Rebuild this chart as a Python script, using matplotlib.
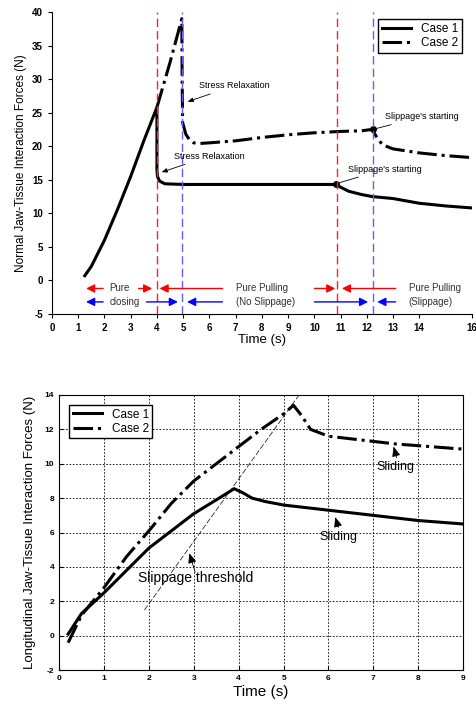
import matplotlib
matplotlib.use("Agg")
import matplotlib.pyplot as plt

plt.rcParams["font.family"] = ["Liberation Sans", "DejaVu Sans"]
plt.rcParams["axes.unicode_minus"] = False

# --- oberes Diagramm: Normalkraft ---
t_case1 = [1.25, 1.5, 2.0, 2.5, 3.0, 3.5, 4.0, 4.0, 4.02, 4.1, 4.3, 5.0, 6.0, 8.0,
           10.0, 10.8, 11.0, 11.3, 11.8, 12.2, 13.0, 14.0, 15.0, 16.0]
f_case1 = [0.7, 2.1, 6.0, 10.6, 15.5, 20.8, 25.8, 16.5, 15.5, 14.8, 14.4, 14.3, 14.3, 14.3,
           14.3, 14.3, 13.9, 13.3, 12.8, 12.5, 12.2, 11.5, 11.1, 10.8]
t_case2 = [4.0, 4.5, 4.95, 4.96, 4.98, 5.1, 5.25, 5.4, 5.6, 6.0, 7.0, 8.0, 9.0, 10.0,
           11.0, 11.8, 12.2, 12.4, 12.6, 13.0, 14.0, 15.0, 16.0]
f_case2 = [25.8, 32.5, 39.0, 30.0, 23.5, 21.8, 20.9, 20.5, 20.4, 20.5, 20.8, 21.3, 21.7, 22.0,
           22.2, 22.3, 22.5, 21.2, 20.2, 19.6, 19.0, 18.6, 18.3]
slip_t = [10.82, 12.22]
slip_f = [14.3, 22.5]
red_lines = [4.0, 10.88]
blue_lines = [4.97, 12.25]
top_xticks = [0, 1, 2, 3, 4, 5, 6, 7, 8, 9, 10, 11, 12, 13, 14, 16]

# --- unteres Diagramm: Längskraft ---
bt_case1 = [0.2, 0.5, 1.0, 1.5, 2.0, 2.5, 3.0, 3.5, 3.9, 4.1, 4.3, 4.6, 5.0, 5.5, 6.0,
            6.5, 7.0, 7.5, 8.0, 8.5, 9.0]
bf_case1 = [0.1, 1.3, 2.5, 3.8, 5.1, 6.1, 7.1, 7.9, 8.55, 8.3, 8.0, 7.8, 7.6, 7.45, 7.3,
            7.15, 7.0, 6.85, 6.7, 6.6, 6.5]
bt_case2 = [0.2, 0.5, 1.0, 1.5, 2.0, 2.5, 3.0, 3.5, 4.0, 4.5, 5.0, 5.22, 5.4, 5.6, 6.0,
            6.5, 7.0, 7.5, 8.0, 8.5, 9.0]
bf_case2 = [-0.4, 1.2, 2.8, 4.6, 6.1, 7.7, 9.0, 10.0, 11.0, 12.0, 12.9, 13.4, 12.8, 12.0, 11.6,
            11.45, 11.3, 11.15, 11.05, 10.95, 10.85]
thresh_t = [1.9, 5.4]
thresh_f = [1.5, 14.2]

fig = plt.figure(figsize=(4.77, 7.04), dpi=100)

# ================= oben =================
ax = fig.add_axes([0.109, 0.554, 0.880, 0.429])
ax.plot(t_case1, f_case1, "k-", lw=2.2, label="Case 1")
ax.plot(t_case2, f_case2, "k-.", lw=2.2, label="Case 2")
ax.plot(slip_t, slip_f, "ko", ms=4)
for x in red_lines:
    ax.axvline(x, color="#ff2020", ls=(0, (6, 3)), lw=1.0)
for x in blue_lines:
    ax.axvline(x, color="#6060ff", ls=(0, (6, 3)), lw=1.0)

ax.set_xlim(0, 16)
ax.set_ylim(-5, 40)
ax.set_xticks(top_xticks)
ax.set_yticks(range(-5, 41, 5))
ax.spines["top"].set_visible(False)
ax.spines["right"].set_visible(False)
ax.tick_params(labelsize=7, length=3)
for lbl in ax.get_xticklabels() + ax.get_yticklabels():
    lbl.set_fontweight("bold")
ax.set_xlabel("Time (s)", fontsize=9.5, labelpad=1)
ax.set_ylabel("Normal Jaw-Tissue Interaction Forces (N)", fontsize=8.5, labelpad=4)
ax.legend(loc="upper right", fontsize=8.5, handlelength=2.5, fancybox=False,
          edgecolor="black", framealpha=1, borderpad=0.3, labelspacing=0.2,
          bbox_to_anchor=(0.99, 0.995))


def arrow(a, head, tail, color, lw=1.0, hl=0.5, hw=0.25):
    a.annotate("", xy=head, xytext=tail,
               arrowprops=dict(arrowstyle=f"-|>,head_length={hl},head_width={hw}",
                               color=color, lw=lw, shrinkA=0, shrinkB=0))


# Phasen-Pfeile
r1, r2 = -1.2, -3.2
arrow(ax, (1.3, r1), (1.95, r1), "red")
arrow(ax, (3.82, r1), (3.3, r1), "red")
arrow(ax, (4.1, r1), (6.5, r1), "red")
arrow(ax, (10.8, r1), (10.0, r1), "red")
arrow(ax, (11.05, r1), (13.1, r1), "red")
arrow(ax, (1.3, r2), (1.95, r2), "blue")
arrow(ax, (4.8, r2), (3.6, r2), "blue")
arrow(ax, (5.15, r2), (6.5, r2), "blue")
arrow(ax, (12.05, r2), (10.0, r2), "blue")
arrow(ax, (12.4, r2), (13.1, r2), "blue")
ax.text(2.2, r1, "Pure", fontsize=7, va="center", color="#333333")
ax.text(2.2, r2, "closing", fontsize=7, va="center", color="#333333")
ax.text(7.0, r1, "Pure Pulling", fontsize=7, va="center", color="#333333")
ax.text(7.0, r2, "(No Slippage)", fontsize=7, va="center", color="#333333")
ax.text(13.6, r1, "Pure Pulling", fontsize=7, va="center", color="#333333")
ax.text(13.6, r2, "(Slippage)", fontsize=7, va="center", color="#333333")

# Annotationen
ann = dict(arrowstyle="-|>,head_length=0.5,head_width=0.2", color="black", lw=0.6)
ax.annotate("Stress Relaxation", xy=(5.07, 26.5), xytext=(5.6, 29.0), fontsize=6.5,
            va="center", arrowprops=ann)
ax.annotate("Stress Relaxation", xy=(4.08, 16.0), xytext=(4.65, 18.5), fontsize=6.5,
            va="center", arrowprops=ann)
ax.annotate("Slippage's starting", xy=(12.23, 22.5), xytext=(12.7, 24.4), fontsize=6.5,
            va="center", arrowprops=dict(arrowstyle="-", color="black", lw=0.6))
ax.annotate("Slippage's starting", xy=(10.82, 14.4), xytext=(11.3, 16.6), fontsize=6.5,
            va="center", arrowprops=dict(arrowstyle="-", color="black", lw=0.6))

# ================= unten =================
bx = fig.add_axes([0.124, 0.048, 0.847, 0.391])
bx.plot(bt_case1, bf_case1, "k-", lw=2.2, label="Case 1")
bx.plot(bt_case2, bf_case2, "k-.", lw=2.2, label="Case 2")
bx.plot(thresh_t, thresh_f, color="black", ls=(0, (8, 3)), lw=0.5)
bx.set_xlim(0, 9)
bx.set_ylim(-2, 14)
bx.set_xticks(range(0, 10))
bx.set_yticks(range(-2, 15, 2))
bx.grid(True, color="black", ls=(0, (2, 2)), lw=0.6)
bx.tick_params(labelsize=6, direction="in", length=3)
for lbl in bx.get_xticklabels() + bx.get_yticklabels():
    lbl.set_fontweight("bold")
bx.set_xlabel("Time (s)", fontsize=11, labelpad=2)
bx.set_ylabel("Longitudinal Jaw-Tissue Interaction Forces (N)", fontsize=9.5, labelpad=6)
bx.legend(loc="upper left", fontsize=8.5, handlelength=2.5, fancybox=False,
          edgecolor="black", framealpha=1, borderpad=0.3, labelspacing=0.2,
          bbox_to_anchor=(0.01, 0.985))

ann2 = dict(arrowstyle="-|>,head_length=0.6,head_width=0.25", color="black", lw=0.6,
            shrinkA=0, shrinkB=0)
bx.text(3.04, 3.35, "Slippage threshold", fontsize=10, ha="center", va="center")
bx.annotate("", xy=(2.9, 4.8), xytext=(3.03, 3.7), arrowprops=ann2)
bx.text(6.21, 5.75, "Sliding", fontsize=9, ha="center", va="center")
bx.annotate("", xy=(6.15, 6.9), xytext=(6.22, 6.3), arrowprops=ann2)
bx.text(7.5, 9.8, "Sliding", fontsize=9, ha="center", va="center")
bx.annotate("", xy=(7.45, 11.0), xytext=(7.52, 10.35), arrowprops=ann2)

fig.savefig("out.png", dpi=100)
